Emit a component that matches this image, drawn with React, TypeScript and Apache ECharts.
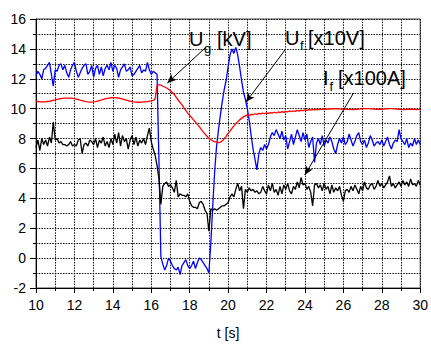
import React, { useEffect, useRef } from "react";
import * as echarts from "echarts";

// sample times: 10.0 .. 30.0 s, step 0.1 s
const timeSec: number[] = Array.from({ length: 201 }, (_, i) => Math.round((10 + i * 0.1) * 10) / 10);

const ugKV: number[] = [
  12.2, 12.5, 12.3, 12.0, 12.6, 12.7, 12.9, 13.1, 12.3, 11.5,
  12.6, 12.5, 12.9, 13.0, 12.6, 12.9, 12.4, 12.1, 12.6, 12.9,
  13.1, 12.5, 12.1, 12.4, 12.7, 12.9, 13.0, 12.3, 12.5, 12.9,
  12.1, 12.7, 12.9, 12.3, 12.8, 12.2, 12.7, 12.9, 12.6, 13.1,
  12.5, 12.9, 12.7, 12.1, 12.6, 12.8, 13.0, 12.5, 12.6, 12.8,
  12.2, 12.3, 12.5, 12.7, 12.9, 12.4, 12.6, 12.5, 13.1, 12.6,
  12.3, 12.5, 12.4, 12.3, 6.5, 0.1, -0.4, -0.8, -0.5, 0.0,
  -0.2, -0.5, -0.7, -0.8, -0.6, -1.1, -0.5, -0.3, -0.1, -0.5,
  -0.7, -0.5, -0.2, -0.7, -0.3, 0.0, -0.1, -0.3, -0.5, -0.7,
  -1.0, 1.0, 3.5, 5.8, 7.5, 8.6, 9.6, 10.5, 11.3, 11.9,
  12.8, 13.6, 14.0, 13.7, 14.1, 13.6, 12.8, 11.9, 11.1, 10.6,
  10.0, 9.2, 8.2, 7.3, 6.6, 5.9, 7.0, 7.4, 7.2, 7.6,
  7.3, 7.6, 8.1, 8.4, 8.2, 8.6, 8.3, 8.0, 8.5, 7.9,
  8.2, 7.3, 7.8, 8.3, 7.6, 8.1, 8.6, 8.2, 7.8, 8.4,
  7.9, 8.3, 7.4, 7.8, 8.1, 6.4, 7.7, 8.0, 7.6, 8.2,
  7.5, 7.9, 7.7, 8.1, 7.8, 7.3, 7.0, 7.6, 8.0, 7.7,
  8.1, 7.6, 7.8, 8.3, 7.9, 7.5, 7.8, 8.2, 8.4, 7.8,
  7.6, 7.9, 7.4, 7.7, 8.2, 7.9, 7.5, 7.7, 7.8, 7.6,
  7.9, 7.5, 7.8, 8.1, 7.6, 7.3, 7.7, 7.9, 7.8, 8.6,
  8.0, 7.8, 7.6, 8.0, 7.4, 7.7, 7.5, 8.0, 7.6, 7.9,
  7.6,
];

const ufX10V: number[] = [
  10.50, 10.48, 10.46, 10.45, 10.45, 10.46, 10.48, 10.50, 10.53, 10.56,
  10.59, 10.62, 10.65, 10.67, 10.69, 10.70, 10.71, 10.71, 10.70, 10.69,
  10.67, 10.64, 10.61, 10.57, 10.54, 10.50, 10.47, 10.45, 10.44, 10.44,
  10.45, 10.47, 10.50, 10.54, 10.58, 10.62, 10.66, 10.69, 10.71, 10.73,
  10.74, 10.74, 10.73, 10.71, 10.68, 10.65, 10.61, 10.57, 10.53, 10.50,
  10.47, 10.45, 10.44, 10.43, 10.43, 10.44, 10.45, 10.46, 10.47, 10.50,
  10.52, 10.55, 10.65, 11.55, 11.60, 11.58, 11.50, 11.45, 11.38, 11.30,
  11.20, 11.08, 10.95, 10.75, 10.58, 10.42, 10.25, 10.05, 9.88, 9.70,
  9.55, 9.40, 9.25, 9.10, 8.95, 8.80, 8.62, 8.45, 8.30, 8.15,
  8.02, 7.92, 7.85, 7.80, 7.76, 7.72, 7.75, 7.85, 8.00, 8.15,
  8.35, 8.50, 8.68, 8.85, 9.00, 9.12, 9.25, 9.35, 9.45, 9.52,
  9.58, 9.55, 9.62, 9.60, 9.66, 9.62, 9.68, 9.65, 9.70, 9.66,
  9.72, 9.68, 9.74, 9.70, 9.76, 9.71, 9.78, 9.73, 9.80, 9.75,
  9.82, 9.78, 9.85, 9.80, 9.86, 9.82, 9.88, 9.84, 9.90, 9.86,
  9.92, 9.88, 9.93, 9.90, 9.95, 9.92, 9.96, 9.93, 9.97, 9.95,
  9.98, 9.96, 9.99, 9.97, 10.0, 9.98, 10.0, 9.98, 9.99, 9.97,
  9.98, 9.96, 9.97, 9.95, 9.96, 9.94, 9.95, 9.96, 9.97, 9.98,
  9.99, 10.0, 10.0, 10.0, 9.99, 9.98, 9.97, 9.96, 9.96, 9.95,
  9.96, 9.97, 9.98, 9.99, 10.0, 10.0, 9.99, 9.98, 9.97, 9.96,
  9.95, 9.94, 9.94, 9.95, 9.96, 9.97, 9.96, 9.95, 9.94, 9.95,
  9.95,
];

const ifX100A: number[] = [
  7.4, 7.9, 7.2, 8.0, 7.6, 7.9, 7.5, 8.1, 7.7, 9.1,
  7.9, 8.0, 7.7, 7.8, 7.6, 7.6, 7.5, 7.6, 7.8, 7.5,
  7.6, 7.5, 7.9, 8.0, 7.0, 7.6, 7.7, 7.5, 7.9, 7.8,
  7.6, 8.0, 7.4, 7.9, 7.7, 8.1, 7.5, 7.8, 7.4, 8.0,
  7.6, 8.3, 7.7, 8.4, 7.5, 8.2, 7.8, 8.0, 7.3, 7.9,
  8.2, 7.6, 8.1, 7.5, 7.9, 7.7, 8.0, 7.6, 8.2, 8.7,
  7.8, 7.3, 6.9, 6.2, 5.3, 3.6, 4.8, 5.0, 5.1, 4.8,
  4.9, 4.7, 4.4, 5.2, 4.1, 4.3, 4.2, 4.2, 4.1, 4.3,
  3.8, 3.5, 3.4, 3.4, 3.3, 3.7, 3.8, 3.6, 3.2, 3.0,
  1.8, 3.3, 3.2, 3.3, 3.2, 3.3, 3.4, 3.5, 3.5, 3.6,
  3.7, 4.1, 4.3, 4.1, 4.6, 5.0, 4.5, 4.8, 3.3, 4.6,
  4.4, 4.7, 4.5, 4.6, 4.4, 4.5, 4.3, 4.4, 4.8, 4.5,
  4.3, 4.9, 4.5, 5.0, 4.4, 4.6, 4.2, 4.8, 4.3, 4.9,
  4.6, 5.0, 4.5, 4.3, 4.8, 4.6, 5.1, 4.7, 5.4, 4.9,
  5.0, 4.6, 4.8, 4.4, 3.5, 4.9, 5.0, 4.7, 4.9, 4.5,
  5.0, 4.6, 4.8, 4.3, 4.9, 4.4, 4.7, 4.5, 4.8, 4.2,
  3.8, 4.5, 4.6, 4.4, 4.8, 4.5, 4.9, 4.6, 4.3, 4.8,
  4.5, 5.1, 4.7, 4.6, 4.9, 5.0, 4.6, 4.8, 5.2, 4.8,
  5.0, 4.7, 4.9, 5.1, 5.5, 4.8, 5.0, 4.7, 4.9, 5.1,
  4.8, 5.2, 4.9, 5.1, 4.8, 5.3, 4.9, 5.0, 4.8, 5.2,
  4.9,
];

// annotation arrows in data coordinates: [fromT, fromV, toT, toV]
const arrowUg = [18.86, 14.13, 16.84, 11.72];
const arrowUf = [23.0, 13.99, 20.93, 10.44];
const arrowIf = [26.53, 11.05, 23.99, 5.56];

const FONT = "'Liberation Sans', Arial, Helvetica, sans-serif";

export default function App() {
  const ref = useRef<HTMLDivElement>(null);
  useEffect(() => {
    if (!ref.current) return;
    const chart = echarts.init(ref.current, undefined, { renderer: "svg" });
    const pair = (vals: number[]) => timeSec.map((t, i) => [t, vals[i]]);
    const grid = { color: "#111", type: [1.5, 1.2] as number[], width: 1 };
    const arrow = (a: number[]) => [{ coord: [a[0], a[1]] }, { coord: [a[2], a[3]] }];
    const txt = (text: string, x: number, y: number, size: number) => ({
      type: "text",
      x,
      y,
      style: { text, fontSize: size, fontFamily: FONT, fill: "#000", verticalAlign: "middle", align: "left" },
      z: 100,
    });
    chart.setOption({
      animation: false,
      backgroundColor: "#fff",
      textStyle: { fontFamily: FONT },
      grid: { left: 36, top: 19, right: 9, bottom: 57, show: true, borderColor: "#444", borderWidth: 1 },
      xAxis: {
        type: "value",
        min: 10,
        max: 30,
        interval: 2,
        name: "t [s]",
        nameLocation: "middle",
        nameGap: 38,
        nameTextStyle: { fontSize: 14, color: "#000", fontFamily: FONT },
        axisLine: { show: true, onZero: false, lineStyle: { color: "#000", width: 1 } },
        axisTick: { show: true, length: 5, lineStyle: { color: "#000" } },
        minorTick: { show: true, splitNumber: 2, length: 3, lineStyle: { color: "#000" } },
        axisLabel: { fontSize: 14, color: "#000", margin: 10, fontFamily: FONT },
        splitLine: { show: true, lineStyle: grid },
        minorSplitLine: { show: true, lineStyle: grid },
      },
      yAxis: {
        type: "value",
        min: -2,
        max: 16,
        interval: 2,
        axisLine: { show: true, onZero: false, lineStyle: { color: "#000", width: 1 } },
        axisTick: { show: true, length: 6, lineStyle: { color: "#000" } },
        minorTick: { show: true, splitNumber: 2, length: 3, lineStyle: { color: "#000" } },
        axisLabel: { fontSize: 14, color: "#000", margin: 10, fontFamily: FONT },
        splitLine: { show: true, lineStyle: grid },
        minorSplitLine: { show: true, lineStyle: grid },
      },
      series: [
        {
          name: "Ug",
          type: "line",
          data: pair(ugKV),
          showSymbol: false,
          lineStyle: { color: "#0000ff", width: 1.3 },
          z: 3,
        },
        {
          name: "Uf",
          type: "line",
          data: pair(ufX10V),
          showSymbol: false,
          lineStyle: { color: "#ff0000", width: 1.3 },
          z: 4,
        },
        {
          name: "If",
          type: "line",
          data: pair(ifX100A),
          showSymbol: false,
          lineStyle: { color: "#000000", width: 1.3 },
          z: 5,
          markLine: {
            silent: true,
            symbol: ["none", "arrow"],
            symbolSize: [6, 9],
            label: { show: false },
            lineStyle: { color: "#000", width: 1, type: "solid" },
            data: [arrow(arrowUg), arrow(arrowUf), arrow(arrowIf)],
          },
        },
      ],
      graphic: [
        txt("U", 189, 39, 20),
        txt("g", 204, 48, 13),
        txt("[kV]", 217, 39, 20),
        txt("U", 285, 38, 20),
        txt("f", 300, 45, 13),
        txt("[x10V]", 308, 38, 20),
        txt("I", 323, 77.5, 20),
        txt("f", 329.5, 86, 13),
        txt("[x100A]", 338, 77.5, 20),
      ],
    });
    return () => chart.dispose();
  }, []);
  return <div ref={ref} style={{ width: 431, height: 345, position: "absolute", left: 0, top: 0 }} />;
}
